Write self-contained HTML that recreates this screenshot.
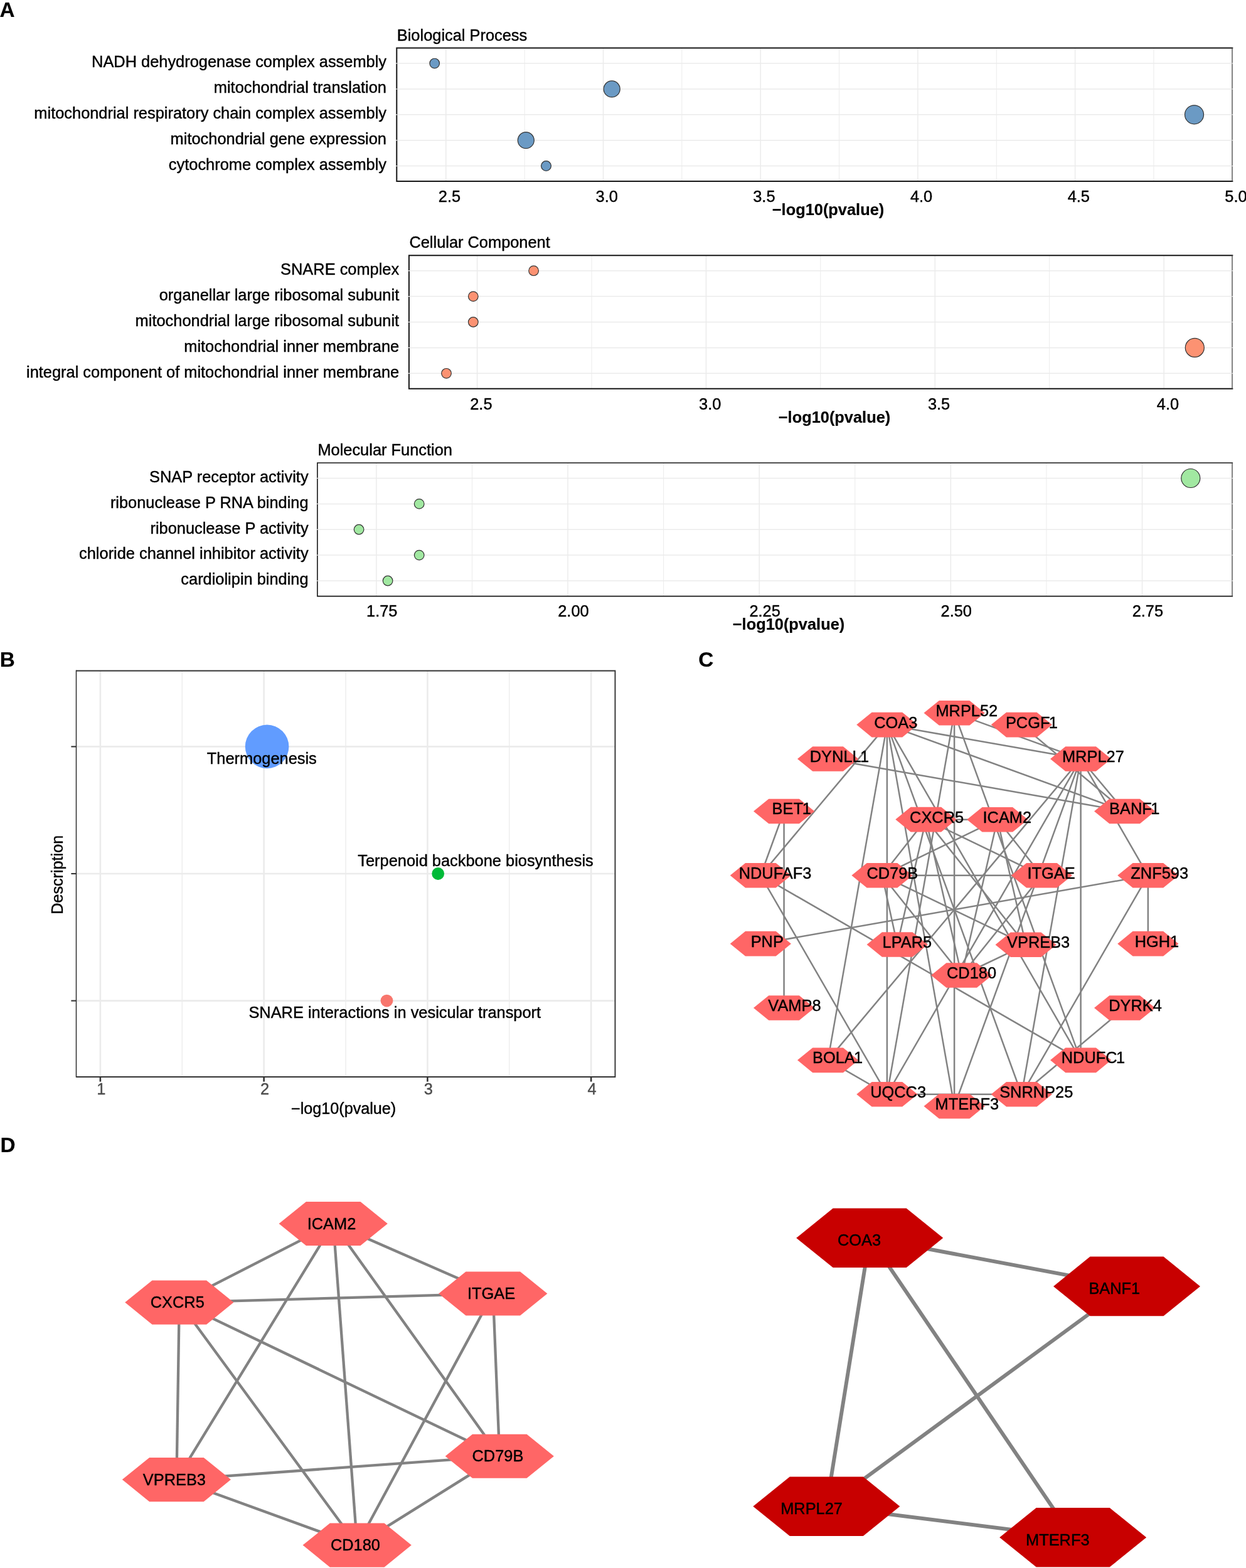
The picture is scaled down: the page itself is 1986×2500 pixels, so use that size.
<!DOCTYPE html>
<html lang="en">
<head>
<meta charset="utf-8">
<title>Figure</title>
<style>
html,body{margin:0;padding:0;background:#fff;}
body{width:1986px;height:2500px;overflow:hidden;}
svg{display:block;font-family:"Liberation Sans", sans-serif;}
text{stroke-width:0.42px;stroke-linejoin:round;}
text[font-weight=bold]{stroke-width:0.2px;}
</style>
</head>
<body>
<svg width="1986" height="2500" viewBox="0 0 1986 2500">
<rect x="0" y="0" width="1986" height="2500" fill="#ffffff"/>
<g>
<rect x="632.3" y="76.6" width="1332" height="212.3" fill="#fff"/>
<line x1="836.15" y1="76.6" x2="836.15" y2="288.9" stroke="#ebebeb" stroke-width="1"/>
<line x1="1086.85" y1="76.6" x2="1086.85" y2="288.9" stroke="#ebebeb" stroke-width="1"/>
<line x1="1337.55" y1="76.6" x2="1337.55" y2="288.9" stroke="#ebebeb" stroke-width="1"/>
<line x1="1588.25" y1="76.6" x2="1588.25" y2="288.9" stroke="#ebebeb" stroke-width="1"/>
<line x1="1838.95" y1="76.6" x2="1838.95" y2="288.9" stroke="#ebebeb" stroke-width="1"/>
<line x1="710.8" y1="76.6" x2="710.8" y2="288.9" stroke="#ebebeb" stroke-width="1.5"/>
<line x1="961.5" y1="76.6" x2="961.5" y2="288.9" stroke="#ebebeb" stroke-width="1.5"/>
<line x1="1212.2" y1="76.6" x2="1212.2" y2="288.9" stroke="#ebebeb" stroke-width="1.5"/>
<line x1="1462.9" y1="76.6" x2="1462.9" y2="288.9" stroke="#ebebeb" stroke-width="1.5"/>
<line x1="1713.6" y1="76.6" x2="1713.6" y2="288.9" stroke="#ebebeb" stroke-width="1.5"/>
<line x1="630.8" y1="101.05" x2="1965.5" y2="101.05" stroke="#ebebeb" stroke-width="1.5"/>
<line x1="630.8" y1="141.95" x2="1965.5" y2="141.95" stroke="#ebebeb" stroke-width="1.5"/>
<line x1="630.8" y1="182.8" x2="1965.5" y2="182.8" stroke="#ebebeb" stroke-width="1.5"/>
<line x1="630.8" y1="223.7" x2="1965.5" y2="223.7" stroke="#ebebeb" stroke-width="1.5"/>
<line x1="630.8" y1="264.6" x2="1965.5" y2="264.6" stroke="#ebebeb" stroke-width="1.5"/>
<circle cx="692.7" cy="101.05" r="7.8" fill="#6b9ac4" stroke="#333" stroke-width="1.2"/>
<circle cx="975.2" cy="141.95" r="13" fill="#6b9ac4" stroke="#333" stroke-width="1.2"/>
<circle cx="1903.5" cy="182.8" r="15" fill="#6b9ac4" stroke="#333" stroke-width="1.2"/>
<circle cx="838.3" cy="223.7" r="13" fill="#6b9ac4" stroke="#333" stroke-width="1.2"/>
<circle cx="870.5" cy="264.6" r="7.9" fill="#6b9ac4" stroke="#333" stroke-width="1.2"/>
<path d="M1964.3 76.6L632.3 76.6L632.3 288.9L1964.3 288.9" fill="none" stroke="#161616" stroke-width="2" stroke-linecap="square" stroke-linejoin="miter"/>
<line x1="1964" y1="76.6" x2="1964" y2="288.9" stroke="#505050" stroke-width="1.4"/>
<line x1="631" y1="101.05" x2="633.5" y2="101.05" stroke="#f0f0f0" stroke-width="1.2"/>
<line x1="1963.3" y1="101.05" x2="1965.5" y2="101.05" stroke="#f0f0f0" stroke-width="1.2"/>
<line x1="631" y1="141.95" x2="633.5" y2="141.95" stroke="#f0f0f0" stroke-width="1.2"/>
<line x1="1963.3" y1="141.95" x2="1965.5" y2="141.95" stroke="#f0f0f0" stroke-width="1.2"/>
<line x1="631" y1="182.8" x2="633.5" y2="182.8" stroke="#f0f0f0" stroke-width="1.2"/>
<line x1="1963.3" y1="182.8" x2="1965.5" y2="182.8" stroke="#f0f0f0" stroke-width="1.2"/>
<line x1="631" y1="223.7" x2="633.5" y2="223.7" stroke="#f0f0f0" stroke-width="1.2"/>
<line x1="1963.3" y1="223.7" x2="1965.5" y2="223.7" stroke="#f0f0f0" stroke-width="1.2"/>
<line x1="631" y1="264.6" x2="633.5" y2="264.6" stroke="#f0f0f0" stroke-width="1.2"/>
<line x1="1963.3" y1="264.6" x2="1965.5" y2="264.6" stroke="#f0f0f0" stroke-width="1.2"/>
<text x="632.8" y="64.9" font-size="25.4" fill="#000" stroke="#000">Biological Process</text>
<text x="616" y="107.35" font-size="25.4" text-anchor="end" fill="#000" stroke="#000">NADH dehydrogenase complex assembly</text>
<text x="616" y="148.25" font-size="25.4" text-anchor="end" fill="#000" stroke="#000">mitochondrial translation</text>
<text x="616" y="189.1" font-size="25.4" text-anchor="end" fill="#000" stroke="#000">mitochondrial respiratory chain complex assembly</text>
<text x="616" y="230" font-size="25.4" text-anchor="end" fill="#000" stroke="#000">mitochondrial gene expression</text>
<text x="616" y="270.9" font-size="25.4" text-anchor="end" fill="#000" stroke="#000">cytochrome complex assembly</text>
<text x="716.5" y="321.5" font-size="25.4" text-anchor="middle" fill="#000" stroke="#000">2.5</text>
<text x="967.2" y="321.5" font-size="25.4" text-anchor="middle" fill="#000" stroke="#000">3.0</text>
<text x="1217.9" y="321.5" font-size="25.4" text-anchor="middle" fill="#000" stroke="#000">3.5</text>
<text x="1468.6" y="321.5" font-size="25.4" text-anchor="middle" fill="#000" stroke="#000">4.0</text>
<text x="1719.3" y="321.5" font-size="25.4" text-anchor="middle" fill="#000" stroke="#000">4.5</text>
<text x="1970" y="321.5" font-size="25.4" text-anchor="middle" fill="#000" stroke="#000">5.0</text>
<text x="1320" y="342.5" font-size="25.4" text-anchor="middle" fill="#000" stroke="#000" font-weight="bold">−log10(pvalue)</text>
</g>
<g>
<rect x="651.9" y="407.3" width="1312.4" height="212.5" fill="#fff"/>
<line x1="943.03" y1="407.3" x2="943.03" y2="619.8" stroke="#ebebeb" stroke-width="1"/>
<line x1="1307.88" y1="407.3" x2="1307.88" y2="619.8" stroke="#ebebeb" stroke-width="1"/>
<line x1="1672.72" y1="407.3" x2="1672.72" y2="619.8" stroke="#ebebeb" stroke-width="1"/>
<line x1="760.6" y1="407.3" x2="760.6" y2="619.8" stroke="#ebebeb" stroke-width="1.5"/>
<line x1="1125.45" y1="407.3" x2="1125.45" y2="619.8" stroke="#ebebeb" stroke-width="1.5"/>
<line x1="1490.3" y1="407.3" x2="1490.3" y2="619.8" stroke="#ebebeb" stroke-width="1.5"/>
<line x1="1855.15" y1="407.3" x2="1855.15" y2="619.8" stroke="#ebebeb" stroke-width="1.5"/>
<line x1="650.4" y1="431.7" x2="1965.5" y2="431.7" stroke="#ebebeb" stroke-width="1.5"/>
<line x1="650.4" y1="472.6" x2="1965.5" y2="472.6" stroke="#ebebeb" stroke-width="1.5"/>
<line x1="650.4" y1="513.5" x2="1965.5" y2="513.5" stroke="#ebebeb" stroke-width="1.5"/>
<line x1="650.4" y1="554.4" x2="1965.5" y2="554.4" stroke="#ebebeb" stroke-width="1.5"/>
<line x1="650.4" y1="595.3" x2="1965.5" y2="595.3" stroke="#ebebeb" stroke-width="1.5"/>
<circle cx="850.6" cy="431.7" r="7.8" fill="#fc9272" stroke="#333" stroke-width="1.2"/>
<circle cx="754.3" cy="472.6" r="7.8" fill="#fc9272" stroke="#333" stroke-width="1.2"/>
<circle cx="754.3" cy="513.5" r="7.8" fill="#fc9272" stroke="#333" stroke-width="1.2"/>
<circle cx="1904.3" cy="554.4" r="15" fill="#fc9272" stroke="#333" stroke-width="1.2"/>
<circle cx="711.5" cy="595.3" r="7.8" fill="#fc9272" stroke="#333" stroke-width="1.2"/>
<path d="M1964.3 407.3L651.9 407.3L651.9 619.8L1964.3 619.8" fill="none" stroke="#161616" stroke-width="2" stroke-linecap="square" stroke-linejoin="miter"/>
<line x1="1964" y1="407.3" x2="1964" y2="619.8" stroke="#505050" stroke-width="1.4"/>
<line x1="650.6" y1="431.7" x2="653.1" y2="431.7" stroke="#f0f0f0" stroke-width="1.2"/>
<line x1="1963.3" y1="431.7" x2="1965.5" y2="431.7" stroke="#f0f0f0" stroke-width="1.2"/>
<line x1="650.6" y1="472.6" x2="653.1" y2="472.6" stroke="#f0f0f0" stroke-width="1.2"/>
<line x1="1963.3" y1="472.6" x2="1965.5" y2="472.6" stroke="#f0f0f0" stroke-width="1.2"/>
<line x1="650.6" y1="513.5" x2="653.1" y2="513.5" stroke="#f0f0f0" stroke-width="1.2"/>
<line x1="1963.3" y1="513.5" x2="1965.5" y2="513.5" stroke="#f0f0f0" stroke-width="1.2"/>
<line x1="650.6" y1="554.4" x2="653.1" y2="554.4" stroke="#f0f0f0" stroke-width="1.2"/>
<line x1="1963.3" y1="554.4" x2="1965.5" y2="554.4" stroke="#f0f0f0" stroke-width="1.2"/>
<line x1="650.6" y1="595.3" x2="653.1" y2="595.3" stroke="#f0f0f0" stroke-width="1.2"/>
<line x1="1963.3" y1="595.3" x2="1965.5" y2="595.3" stroke="#f0f0f0" stroke-width="1.2"/>
<text x="652.4" y="395" font-size="25.4" fill="#000" stroke="#000">Cellular Component</text>
<text x="636.2" y="438" font-size="25.4" text-anchor="end" fill="#000" stroke="#000">SNARE complex</text>
<text x="636.2" y="478.9" font-size="25.4" text-anchor="end" fill="#000" stroke="#000">organellar large ribosomal subunit</text>
<text x="636.2" y="519.8" font-size="25.4" text-anchor="end" fill="#000" stroke="#000">mitochondrial large ribosomal subunit</text>
<text x="636.2" y="560.7" font-size="25.4" text-anchor="end" fill="#000" stroke="#000">mitochondrial inner membrane</text>
<text x="636.2" y="601.6" font-size="25.4" text-anchor="end" fill="#000" stroke="#000">integral component of mitochondrial inner membrane</text>
<text x="766.9" y="653" font-size="25.4" text-anchor="middle" fill="#000" stroke="#000">2.5</text>
<text x="1131.75" y="653" font-size="25.4" text-anchor="middle" fill="#000" stroke="#000">3.0</text>
<text x="1496.6" y="653" font-size="25.4" text-anchor="middle" fill="#000" stroke="#000">3.5</text>
<text x="1861.45" y="653" font-size="25.4" text-anchor="middle" fill="#000" stroke="#000">4.0</text>
<text x="1330" y="674.2" font-size="25.4" text-anchor="middle" fill="#000" stroke="#000" font-weight="bold">−log10(pvalue)</text>
</g>
<g>
<rect x="505.9" y="738" width="1458.4" height="212.6" fill="#fff"/>
<line x1="752.47" y1="738" x2="752.47" y2="950.6" stroke="#ebebeb" stroke-width="1"/>
<line x1="1057.62" y1="738" x2="1057.62" y2="950.6" stroke="#ebebeb" stroke-width="1"/>
<line x1="1362.78" y1="738" x2="1362.78" y2="950.6" stroke="#ebebeb" stroke-width="1"/>
<line x1="1667.92" y1="738" x2="1667.92" y2="950.6" stroke="#ebebeb" stroke-width="1"/>
<line x1="599.9" y1="738" x2="599.9" y2="950.6" stroke="#ebebeb" stroke-width="1.5"/>
<line x1="905.05" y1="738" x2="905.05" y2="950.6" stroke="#ebebeb" stroke-width="1.5"/>
<line x1="1210.2" y1="738" x2="1210.2" y2="950.6" stroke="#ebebeb" stroke-width="1.5"/>
<line x1="1515.35" y1="738" x2="1515.35" y2="950.6" stroke="#ebebeb" stroke-width="1.5"/>
<line x1="1820.5" y1="738" x2="1820.5" y2="950.6" stroke="#ebebeb" stroke-width="1.5"/>
<line x1="504.4" y1="762.5" x2="1965.5" y2="762.5" stroke="#ebebeb" stroke-width="1.5"/>
<line x1="504.4" y1="803.4" x2="1965.5" y2="803.4" stroke="#ebebeb" stroke-width="1.5"/>
<line x1="504.4" y1="844.25" x2="1965.5" y2="844.25" stroke="#ebebeb" stroke-width="1.5"/>
<line x1="504.4" y1="885.1" x2="1965.5" y2="885.1" stroke="#ebebeb" stroke-width="1.5"/>
<line x1="504.4" y1="926" x2="1965.5" y2="926" stroke="#ebebeb" stroke-width="1.5"/>
<circle cx="1897.8" cy="762.5" r="15" fill="#a1e8a1" stroke="#333" stroke-width="1.2"/>
<circle cx="668.2" cy="803.4" r="7.8" fill="#a1e8a1" stroke="#333" stroke-width="1.2"/>
<circle cx="572.1" cy="844.25" r="7.8" fill="#a1e8a1" stroke="#333" stroke-width="1.2"/>
<circle cx="668.2" cy="885.1" r="7.8" fill="#a1e8a1" stroke="#333" stroke-width="1.2"/>
<circle cx="618.1" cy="926" r="7.8" fill="#a1e8a1" stroke="#333" stroke-width="1.2"/>
<path d="M1964.3 738L505.9 738L505.9 950.6L1964.3 950.6" fill="none" stroke="#161616" stroke-width="1.6" stroke-linecap="square" stroke-linejoin="miter"/>
<line x1="1964" y1="738" x2="1964" y2="950.6" stroke="#505050" stroke-width="1.4"/>
<line x1="504.6" y1="762.5" x2="507.1" y2="762.5" stroke="#f0f0f0" stroke-width="1.2"/>
<line x1="1963.3" y1="762.5" x2="1965.5" y2="762.5" stroke="#f0f0f0" stroke-width="1.2"/>
<line x1="504.6" y1="803.4" x2="507.1" y2="803.4" stroke="#f0f0f0" stroke-width="1.2"/>
<line x1="1963.3" y1="803.4" x2="1965.5" y2="803.4" stroke="#f0f0f0" stroke-width="1.2"/>
<line x1="504.6" y1="844.25" x2="507.1" y2="844.25" stroke="#f0f0f0" stroke-width="1.2"/>
<line x1="1963.3" y1="844.25" x2="1965.5" y2="844.25" stroke="#f0f0f0" stroke-width="1.2"/>
<line x1="504.6" y1="885.1" x2="507.1" y2="885.1" stroke="#f0f0f0" stroke-width="1.2"/>
<line x1="1963.3" y1="885.1" x2="1965.5" y2="885.1" stroke="#f0f0f0" stroke-width="1.2"/>
<line x1="504.6" y1="926" x2="507.1" y2="926" stroke="#f0f0f0" stroke-width="1.2"/>
<line x1="1963.3" y1="926" x2="1965.5" y2="926" stroke="#f0f0f0" stroke-width="1.2"/>
<text x="506.4" y="726" font-size="25.4" fill="#000" stroke="#000">Molecular Function</text>
<text x="491.6" y="768.8" font-size="25.4" text-anchor="end" fill="#000" stroke="#000">SNAP receptor activity</text>
<text x="491.6" y="809.7" font-size="25.4" text-anchor="end" fill="#000" stroke="#000">ribonuclease P RNA binding</text>
<text x="491.6" y="850.55" font-size="25.4" text-anchor="end" fill="#000" stroke="#000">ribonuclease P activity</text>
<text x="491.6" y="891.4" font-size="25.4" text-anchor="end" fill="#000" stroke="#000">chloride channel inhibitor activity</text>
<text x="491.6" y="932.3" font-size="25.4" text-anchor="end" fill="#000" stroke="#000">cardiolipin binding</text>
<text x="608.8" y="983.3" font-size="25.4" text-anchor="middle" fill="#000" stroke="#000">1.75</text>
<text x="913.95" y="983.3" font-size="25.4" text-anchor="middle" fill="#000" stroke="#000">2.00</text>
<text x="1219.1" y="983.3" font-size="25.4" text-anchor="middle" fill="#000" stroke="#000">2.25</text>
<text x="1524.25" y="983.3" font-size="25.4" text-anchor="middle" fill="#000" stroke="#000">2.50</text>
<text x="1829.4" y="983.3" font-size="25.4" text-anchor="middle" fill="#000" stroke="#000">2.75</text>
<text x="1257" y="1004" font-size="25.4" text-anchor="middle" fill="#000" stroke="#000" font-weight="bold">−log10(pvalue)</text>
</g>
<text x="-0.5" y="27" font-size="33.3" fill="#000" stroke="#000" font-weight="bold">A</text>
<g>
<rect x="121.5" y="1069.5" width="858.95" height="647.45" fill="#fff"/>
<line x1="290.27" y1="1069.5" x2="290.27" y2="1716.95" stroke="#ebebeb" stroke-width="1.3"/>
<line x1="551.02" y1="1069.5" x2="551.02" y2="1716.95" stroke="#ebebeb" stroke-width="1.3"/>
<line x1="811.77" y1="1069.5" x2="811.77" y2="1716.95" stroke="#ebebeb" stroke-width="1.3"/>
<line x1="159.9" y1="1069.5" x2="159.9" y2="1716.95" stroke="#ebebeb" stroke-width="2.6"/>
<line x1="420.65" y1="1069.5" x2="420.65" y2="1716.95" stroke="#ebebeb" stroke-width="2.6"/>
<line x1="681.4" y1="1069.5" x2="681.4" y2="1716.95" stroke="#ebebeb" stroke-width="2.6"/>
<line x1="942.15" y1="1069.5" x2="942.15" y2="1716.95" stroke="#ebebeb" stroke-width="2.6"/>
<line x1="121.5" y1="1190.4" x2="980.45" y2="1190.4" stroke="#ebebeb" stroke-width="2.6"/>
<line x1="121.5" y1="1393" x2="980.45" y2="1393" stroke="#ebebeb" stroke-width="2.6"/>
<line x1="121.5" y1="1595.6" x2="980.45" y2="1595.6" stroke="#ebebeb" stroke-width="2.6"/>
<circle cx="425.6" cy="1190.4" r="34.8" fill="#619cff"/>
<circle cx="698.2" cy="1393" r="9.9" fill="#00ba38"/>
<circle cx="616.5" cy="1595.6" r="9.9" fill="#f8766d"/>
<text x="329.8" y="1217.7" font-size="25.4" fill="#000" stroke="#000">Thermogenesis</text>
<text x="570.3" y="1381.4" font-size="25.4" fill="#000" stroke="#000">Terpenoid backbone biosynthesis</text>
<text x="396.4" y="1623" font-size="25.4" fill="#000" stroke="#000">SNARE interactions in vesicular transport</text>
<path d="M121.5 1069.5L980.45 1069.5L980.45 1716.95L121.5 1716.95" fill="none" stroke="#333" stroke-width="1.9" stroke-linecap="butt"/>
<line x1="121.5" y1="1068.6" x2="121.5" y2="1717.85" stroke="#2d2d2d" stroke-width="1.5"/>
<line x1="113.4" y1="1190.4" x2="121.5" y2="1190.4" stroke="#333" stroke-width="2.1"/>
<line x1="113.4" y1="1393" x2="121.5" y2="1393" stroke="#333" stroke-width="2.1"/>
<line x1="113.4" y1="1595.6" x2="121.5" y2="1595.6" stroke="#333" stroke-width="2.1"/>
<line x1="159.9" y1="1716.95" x2="159.9" y2="1724.6" stroke="#333" stroke-width="2.6"/>
<text x="161.2" y="1745.4" font-size="25.4" text-anchor="middle" fill="#4d4d4d" stroke="#4d4d4d">1</text>
<line x1="420.65" y1="1716.95" x2="420.65" y2="1724.6" stroke="#333" stroke-width="2.6"/>
<text x="421.95" y="1745.4" font-size="25.4" text-anchor="middle" fill="#4d4d4d" stroke="#4d4d4d">2</text>
<line x1="681.4" y1="1716.95" x2="681.4" y2="1724.6" stroke="#333" stroke-width="2.6"/>
<text x="682.7" y="1745.4" font-size="25.4" text-anchor="middle" fill="#4d4d4d" stroke="#4d4d4d">3</text>
<line x1="942.15" y1="1716.95" x2="942.15" y2="1724.6" stroke="#333" stroke-width="2.6"/>
<text x="943.45" y="1745.4" font-size="25.4" text-anchor="middle" fill="#4d4d4d" stroke="#4d4d4d">4</text>
<text x="547.6" y="1776" font-size="25.2" text-anchor="middle" fill="#000" stroke="#000">−log10(pvalue)</text>
<text transform="translate(100.0,1394.8) rotate(-90)" font-size="25.2" text-anchor="middle" fill="#000" stroke="#000">Description</text>
</g>
<text x="-0.3" y="1063.1" font-size="33.3" fill="#000" stroke="#000" font-weight="bold">B</text>
<g>
<g stroke="#828282" stroke-width="2.5" stroke-linecap="butt">
<line x1="1589.8" y1="1306.7" x2="1475.9" y2="1306.6"/>
<line x1="1589.8" y1="1306.7" x2="1660.4" y2="1395.8"/>
<line x1="1589.8" y1="1306.7" x2="1635.1" y2="1506.2"/>
<line x1="1589.8" y1="1306.7" x2="1532.7" y2="1555"/>
<line x1="1589.8" y1="1306.7" x2="1406" y2="1395.8"/>
<line x1="1475.9" y1="1306.6" x2="1660.4" y2="1395.8"/>
<line x1="1475.9" y1="1306.6" x2="1635.1" y2="1506.2"/>
<line x1="1475.9" y1="1306.6" x2="1532.7" y2="1555"/>
<line x1="1475.9" y1="1306.6" x2="1406" y2="1395.8"/>
<line x1="1660.4" y1="1395.8" x2="1406" y2="1395.8"/>
<line x1="1660.4" y1="1395.8" x2="1532.7" y2="1555"/>
<line x1="1406" y1="1395.8" x2="1635.1" y2="1506.2"/>
<line x1="1406" y1="1395.8" x2="1532.7" y2="1555"/>
<line x1="1635.1" y1="1506.2" x2="1532.7" y2="1555"/>
<line x1="1413.88" y1="1155.61" x2="1792.6" y2="1293.45"/>
<line x1="1413.88" y1="1155.61" x2="1722.61" y2="1210.05"/>
<line x1="1413.88" y1="1155.61" x2="1521.1" y2="1763.7"/>
<line x1="1792.6" y1="1293.45" x2="1722.61" y2="1210.05"/>
<line x1="1722.61" y1="1210.05" x2="1521.1" y2="1763.7"/>
<line x1="1413.88" y1="1155.61" x2="1212.36" y2="1395.76"/>
<line x1="1413.88" y1="1155.61" x2="1319.59" y2="1690.35"/>
<line x1="1413.88" y1="1155.61" x2="1413.88" y2="1744.79"/>
<line x1="1413.88" y1="1155.61" x2="1628.32" y2="1744.79"/>
<line x1="1413.88" y1="1155.61" x2="1722.61" y2="1690.35"/>
<line x1="1521.1" y1="1136.7" x2="1413.88" y2="1744.79"/>
<line x1="1521.1" y1="1136.7" x2="1521.1" y2="1763.7"/>
<line x1="1521.1" y1="1136.7" x2="1722.61" y2="1690.35"/>
<line x1="1521.1" y1="1136.7" x2="1722.61" y2="1210.05"/>
<line x1="1319.59" y1="1210.05" x2="1792.6" y2="1293.45"/>
<line x1="1628.32" y1="1155.61" x2="1792.6" y2="1293.45"/>
<line x1="1722.61" y1="1210.05" x2="1829.84" y2="1395.76"/>
<line x1="1249.6" y1="1293.45" x2="1212.36" y2="1395.76"/>
<line x1="1249.6" y1="1293.45" x2="1249.6" y2="1606.95"/>
<line x1="1722.61" y1="1210.05" x2="1319.59" y2="1690.35"/>
<line x1="1722.61" y1="1210.05" x2="1413.88" y2="1744.79"/>
<line x1="1722.61" y1="1210.05" x2="1628.32" y2="1744.79"/>
<line x1="1722.61" y1="1210.05" x2="1722.61" y2="1690.35"/>
<line x1="1319.59" y1="1690.35" x2="1413.88" y2="1744.79"/>
<line x1="1413.88" y1="1744.79" x2="1212.36" y2="1395.76"/>
<line x1="1413.88" y1="1744.79" x2="1628.32" y2="1744.79"/>
<line x1="1212.36" y1="1395.76" x2="1722.61" y2="1690.35"/>
<line x1="1212.36" y1="1504.64" x2="1829.84" y2="1395.76"/>
<line x1="1829.84" y1="1395.76" x2="1829.84" y2="1504.64"/>
<line x1="1829.84" y1="1395.76" x2="1628.32" y2="1744.79"/>
<line x1="1792.6" y1="1606.95" x2="1628.32" y2="1744.79"/>
<line x1="1430.2" y1="1506" x2="1406" y2="1395.8"/>
<line x1="1430.2" y1="1506" x2="1475.9" y2="1306.6"/>
</g>
<polygon points="1472.5,1136.7 1496.8,1116.9 1545.4,1116.9 1569.7,1136.7 1545.4,1156.5 1496.8,1156.5" fill="#ff6666"/>
<polygon points="1579.72,1155.61 1604.02,1135.81 1652.62,1135.81 1676.92,1155.61 1652.62,1175.41 1604.02,1175.41" fill="#ff6666"/>
<polygon points="1674.01,1210.05 1698.31,1190.25 1746.91,1190.25 1771.21,1210.05 1746.91,1229.85 1698.31,1229.85" fill="#ff6666"/>
<polygon points="1744,1293.45 1768.3,1273.65 1816.9,1273.65 1841.2,1293.45 1816.9,1313.25 1768.3,1313.25" fill="#ff6666"/>
<polygon points="1781.24,1395.76 1805.54,1375.96 1854.14,1375.96 1878.44,1395.76 1854.14,1415.56 1805.54,1415.56" fill="#ff6666"/>
<polygon points="1781.24,1504.64 1805.54,1484.84 1854.14,1484.84 1878.44,1504.64 1854.14,1524.44 1805.54,1524.44" fill="#ff6666"/>
<polygon points="1744,1606.95 1768.3,1587.15 1816.9,1587.15 1841.2,1606.95 1816.9,1626.75 1768.3,1626.75" fill="#ff6666"/>
<polygon points="1674.01,1690.35 1698.31,1670.55 1746.91,1670.55 1771.21,1690.35 1746.91,1710.15 1698.31,1710.15" fill="#ff6666"/>
<polygon points="1579.72,1744.79 1604.02,1724.99 1652.62,1724.99 1676.92,1744.79 1652.62,1764.59 1604.02,1764.59" fill="#ff6666"/>
<polygon points="1472.5,1763.7 1496.8,1743.9 1545.4,1743.9 1569.7,1763.7 1545.4,1783.5 1496.8,1783.5" fill="#ff6666"/>
<polygon points="1365.28,1744.79 1389.58,1724.99 1438.18,1724.99 1462.48,1744.79 1438.18,1764.59 1389.58,1764.59" fill="#ff6666"/>
<polygon points="1270.99,1690.35 1295.29,1670.55 1343.89,1670.55 1368.19,1690.35 1343.89,1710.15 1295.29,1710.15" fill="#ff6666"/>
<polygon points="1201,1606.95 1225.3,1587.15 1273.9,1587.15 1298.2,1606.95 1273.9,1626.75 1225.3,1626.75" fill="#ff6666"/>
<polygon points="1163.76,1504.64 1188.06,1484.84 1236.66,1484.84 1260.96,1504.64 1236.66,1524.44 1188.06,1524.44" fill="#ff6666"/>
<polygon points="1163.76,1395.76 1188.06,1375.96 1236.66,1375.96 1260.96,1395.76 1236.66,1415.56 1188.06,1415.56" fill="#ff6666"/>
<polygon points="1201,1293.45 1225.3,1273.65 1273.9,1273.65 1298.2,1293.45 1273.9,1313.25 1225.3,1313.25" fill="#ff6666"/>
<polygon points="1270.99,1210.05 1295.29,1190.25 1343.89,1190.25 1368.19,1210.05 1343.89,1229.85 1295.29,1229.85" fill="#ff6666"/>
<polygon points="1365.28,1155.61 1389.58,1135.81 1438.18,1135.81 1462.48,1155.61 1438.18,1175.41 1389.58,1175.41" fill="#ff6666"/>
<polygon points="1427.3,1306.6 1451.6,1286.8 1500.2,1286.8 1524.5,1306.6 1500.2,1326.4 1451.6,1326.4" fill="#ff6666"/>
<polygon points="1541.2,1306.7 1565.5,1286.9 1614.1,1286.9 1638.4,1306.7 1614.1,1326.5 1565.5,1326.5" fill="#ff6666"/>
<polygon points="1357.4,1395.8 1381.7,1376 1430.3,1376 1454.6,1395.8 1430.3,1415.6 1381.7,1415.6" fill="#ff6666"/>
<polygon points="1611.8,1395.8 1636.1,1376 1684.7,1376 1709,1395.8 1684.7,1415.6 1636.1,1415.6" fill="#ff6666"/>
<polygon points="1381.6,1506 1405.9,1486.2 1454.5,1486.2 1478.8,1506 1454.5,1525.8 1405.9,1525.8" fill="#ff6666"/>
<polygon points="1586.5,1506.2 1610.8,1486.4 1659.4,1486.4 1683.7,1506.2 1659.4,1526 1610.8,1526" fill="#ff6666"/>
<polygon points="1484.1,1555 1508.4,1535.2 1557,1535.2 1581.3,1555 1557,1574.8 1508.4,1574.8" fill="#ff6666"/>
<text x="1491.45" y="1141.6" font-size="25.4" fill="#000" stroke="#000">MRPL52</text>
<text x="1602.92" y="1160.51" font-size="25.4" fill="#000" stroke="#000" dx="0 0 0 0 -1.6">PCGF1</text>
<text x="1692.97" y="1214.95" font-size="25.4" fill="#000" stroke="#000">MRPL27</text>
<text x="1768.04" y="1298.35" font-size="25.4" fill="#000" stroke="#000" dx="0 0 0 0 -1.6">BANF1</text>
<text x="1802.31" y="1400.66" font-size="25.4" fill="#000" stroke="#000">ZNF593</text>
<text x="1808.67" y="1509.54" font-size="25.4" fill="#000" stroke="#000">HGH1</text>
<text x="1767.19" y="1611.85" font-size="25.4" fill="#000" stroke="#000">DYRK4</text>
<text x="1691.71" y="1695.25" font-size="25.4" fill="#000" stroke="#000" dx="0 0 0 0 0 -1.5">NDUFC1</text>
<text x="1593.17" y="1749.69" font-size="25.4" fill="#000" stroke="#000">SNRNP25</text>
<text x="1490.62" y="1768.6" font-size="25.4" fill="#000" stroke="#000">MTERF3</text>
<text x="1387.2" y="1749.69" font-size="25.4" fill="#000" stroke="#000">UQCC3</text>
<text x="1295.02" y="1695.25" font-size="25.4" fill="#000" stroke="#000" dx="0 0 0 0 -1.8">BOLA1</text>
<text x="1224.33" y="1611.85" font-size="25.4" fill="#000" stroke="#000">VAMP8</text>
<text x="1196.69" y="1509.54" font-size="25.4" fill="#000" stroke="#000">PNP</text>
<text x="1177.64" y="1400.66" font-size="25.4" fill="#000" stroke="#000">NDUFAF3</text>
<text x="1230.54" y="1298.35" font-size="25.4" fill="#000" stroke="#000" dx="0 0 0 -1.1">BET1</text>
<text x="1290.78" y="1214.95" font-size="25.4" fill="#000" stroke="#000" dx="0 0 0 0 0 -1.6">DYNLL1</text>
<text x="1393.13" y="1160.51" font-size="25.4" fill="#000" stroke="#000">COA3</text>
<text x="1450.07" y="1311.5" font-size="25.4" fill="#000" stroke="#000">CXCR5</text>
<text x="1566.51" y="1311.6" font-size="25.4" fill="#000" stroke="#000">ICAM2</text>
<text x="1381.44" y="1400.7" font-size="25.4" fill="#000" stroke="#000">CD79B</text>
<text x="1637.54" y="1400.7" font-size="25.4" fill="#000" stroke="#000">ITGAE</text>
<text x="1406.62" y="1510.9" font-size="25.4" fill="#000" stroke="#000">LPAR5</text>
<text x="1605.03" y="1511.1" font-size="25.4" fill="#000" stroke="#000">VPREB3</text>
<text x="1508.98" y="1559.9" font-size="25.4" fill="#000" stroke="#000">CD180</text>
</g>
<text x="1113.3" y="1062.9" font-size="33.3" fill="#000" stroke="#000" font-weight="bold">C</text>
<g>
<g stroke="#828282" stroke-width="4.3">
<line x1="531.2" y1="1951" x2="285.8" y2="2076.6"/>
<line x1="531.2" y1="1951" x2="785.8" y2="2062.5"/>
<line x1="531.2" y1="1951" x2="281.4" y2="2359.1"/>
<line x1="531.2" y1="1951" x2="569.2" y2="2463.6"/>
<line x1="531.2" y1="1951" x2="796.3" y2="2321.7"/>
<line x1="285.8" y1="2076.6" x2="785.8" y2="2062.5"/>
<line x1="285.8" y1="2076.6" x2="281.4" y2="2359.1"/>
<line x1="285.8" y1="2076.6" x2="569.2" y2="2463.6"/>
<line x1="285.8" y1="2076.6" x2="796.3" y2="2321.7"/>
<line x1="785.8" y1="2062.5" x2="796.3" y2="2321.7"/>
<line x1="785.8" y1="2062.5" x2="569.2" y2="2463.6"/>
<line x1="796.3" y1="2321.7" x2="281.4" y2="2359.1"/>
<line x1="796.3" y1="2321.7" x2="569.2" y2="2463.6"/>
<line x1="281.4" y1="2359.1" x2="569.2" y2="2463.6"/>
</g>
<polygon points="444.6,1951 487.9,1915.95 574.5,1915.95 617.8,1951 574.5,1986.05 487.9,1986.05" fill="#ff6666"/>
<polygon points="199.2,2076.6 242.5,2041.55 329.1,2041.55 372.4,2076.6 329.1,2111.65 242.5,2111.65" fill="#ff6666"/>
<polygon points="699.2,2062.5 742.5,2027.45 829.1,2027.45 872.4,2062.5 829.1,2097.55 742.5,2097.55" fill="#ff6666"/>
<polygon points="709.7,2321.7 753,2286.65 839.6,2286.65 882.9,2321.7 839.6,2356.75 753,2356.75" fill="#ff6666"/>
<polygon points="194.8,2359.1 238.1,2324.05 324.7,2324.05 368,2359.1 324.7,2394.15 238.1,2394.15" fill="#ff6666"/>
<polygon points="482.6,2463.6 525.9,2428.55 612.5,2428.55 655.8,2463.6 612.5,2498.65 525.9,2498.65" fill="#ff6666"/>
<text x="489.67" y="1959.5" font-size="25.4" fill="#000" stroke="#000">ICAM2</text>
<text x="239.74" y="2085.1" font-size="25.4" fill="#000" stroke="#000">CXCR5</text>
<text x="745.03" y="2071" font-size="25.4" fill="#000" stroke="#000">ITGAE</text>
<text x="752.49" y="2330.2" font-size="25.4" fill="#000" stroke="#000">CD79B</text>
<text x="227.77" y="2367.6" font-size="25.4" fill="#000" stroke="#000">VPREB3</text>
<text x="526.9" y="2472.1" font-size="25.4" fill="#000" stroke="#000">CD180</text>
</g>
<g>
<g stroke="#828282" stroke-width="6">
<line x1="1386.2" y1="1973.8" x2="1796" y2="2050.9"/>
<line x1="1386.2" y1="1973.8" x2="1317.3" y2="2401.7"/>
<line x1="1386.2" y1="1973.8" x2="1710.2" y2="2451.3"/>
<line x1="1796" y1="2050.9" x2="1317.3" y2="2401.7"/>
<line x1="1317.3" y1="2401.7" x2="1710.2" y2="2451.3"/>
</g>
<polygon points="1269.2,1973.8 1327.7,1926.5 1444.7,1926.5 1503.2,1973.8 1444.7,2021.1 1327.7,2021.1" fill="#c80000"/>
<polygon points="1679,2050.9 1737.5,2003.6 1854.5,2003.6 1913,2050.9 1854.5,2098.2 1737.5,2098.2" fill="#c80000"/>
<polygon points="1200.3,2401.7 1258.8,2354.4 1375.8,2354.4 1434.3,2401.7 1375.8,2449 1258.8,2449" fill="#c80000"/>
<polygon points="1593.2,2451.3 1651.7,2404 1768.7,2404 1827.2,2451.3 1768.7,2498.6 1651.7,2498.6" fill="#c80000"/>
<text x="1335.02" y="1986" font-size="25.4" fill="#000" stroke="#000">COA3</text>
<text x="1735.42" y="2063.1" font-size="25.4" fill="#000" stroke="#000">BANF1</text>
<text x="1244.17" y="2413.9" font-size="25.4" fill="#000" stroke="#000">MRPL27</text>
<text x="1635.02" y="2463.5" font-size="25.4" fill="#000" stroke="#000">MTERF3</text>
</g>
<text x="0.6" y="1837.2" font-size="33.3" fill="#000" stroke="#000" font-weight="bold">D</text>
</svg>
</body>
</html>
